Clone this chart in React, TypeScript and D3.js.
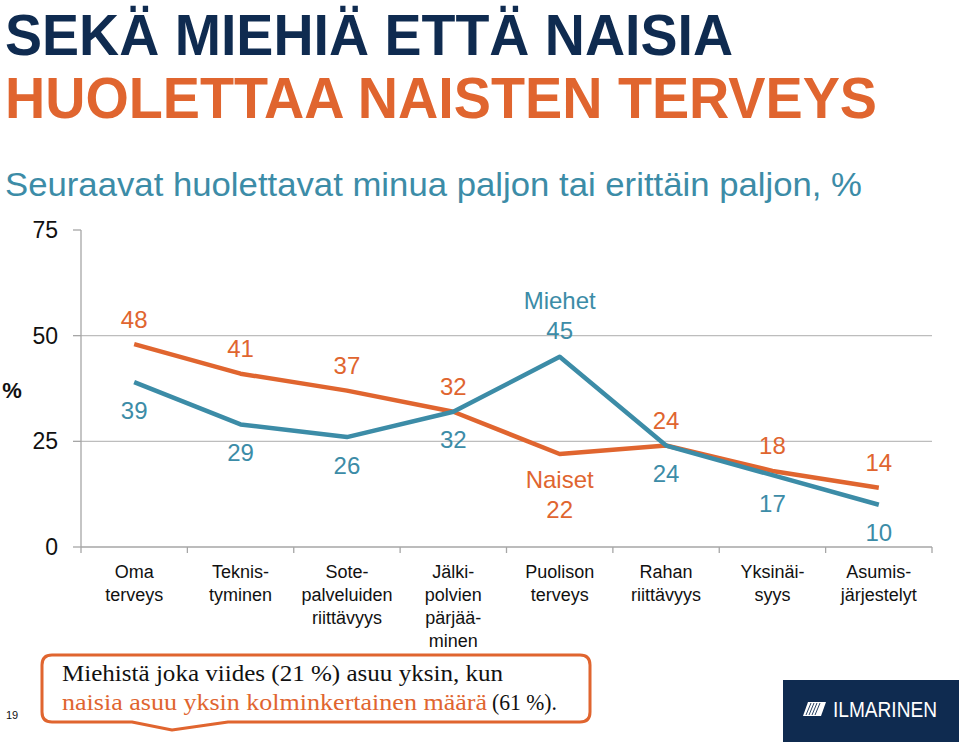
import React from "react";
import * as d3 from "d3";

const categories: string[][] = [
  ["Oma", "terveys"],
  ["Teknis-", "tyminen"],
  ["Sote-", "palveluiden", "riittävyys"],
  ["Jälki-", "polvien", "pärjää-", "minen"],
  ["Puolison", "terveys"],
  ["Rahan", "riittävyys"],
  ["Yksinäi-", "syys"],
  ["Asumis-", "järjestelyt"],
];
const naiset = [48, 41, 37, 32, 22, 24, 18, 14];
const miehet = [39, 29, 26, 32, 45, 24, 17, 10];
const yTicks = [0, 25, 50, 75];
const gridValues = [25, 50];

const ORANGE = "#E0652F";
const BLUE = "#3C8CA7";
const NAVY = "#0F2B50";

export default function App() {
  const W = 959, H = 742;
  const left = 81, right = 932, top = 230, bottom = 547;
  const idx = categories.map((_, i) => String(i));
  const x = d3.scaleBand<string>().domain(idx).range([left, right]).padding(0);
  const y = d3.scaleLinear().domain([0, 75]).range([bottom, top]);
  const cx = (i: number) => (x(String(i)) as number) + x.bandwidth() / 2;
  const line = d3.line<number>().x((_, i) => cx(i)).y((d) => y(d));

  const boundaries = d3.range(categories.length + 1).map((i) => left + i * x.bandwidth());

  return (
    <svg width={W} height={H} style={{ position: "absolute", left: 0, top: 0, background: "#fff" }}
      fontFamily="'Liberation Sans', Arial, sans-serif">
      {/* Titles */}
      <text x={5} y={55} fontSize={58} fontWeight="bold" fill={NAVY} textLength={728} lengthAdjust="spacingAndGlyphs">SEKÄ MIEHIÄ ETTÄ NAISIA</text>
      <text x={5} y={118} fontSize={58} fontWeight="bold" fill={ORANGE} textLength={872} lengthAdjust="spacingAndGlyphs">HUOLETTAA NAISTEN TERVEYS</text>
      <text x={5} y={196} fontSize={33} fill={BLUE} textLength={857} lengthAdjust="spacingAndGlyphs">Seuraavat huolettavat minua paljon tai erittäin paljon, %</text>

      {/* gridlines */}
      {gridValues.map((v) => (
        <line key={"g" + v} x1={left} x2={right} y1={y(v)} y2={y(v)} stroke="#BDBDBD" strokeWidth={1.3} />
      ))}
      {/* y axis */}
      <line x1={left} x2={left} y1={top} y2={bottom} stroke="#A6A6A6" strokeWidth={1.3} />
      {yTicks.map((v) => (
        <g key={"t" + v}>
          <line x1={left - 8} x2={left} y1={y(v)} y2={y(v)} stroke="#A6A6A6" strokeWidth={1.3} />
          <text x={58} y={y(v)} dy="0.35em" textAnchor="end" fontSize={23} fill="#111">{v}</text>
        </g>
      ))}
      <text x={12} y={390} dy="0.35em" textAnchor="middle" fontSize={22} fontWeight="bold" fill="#111">%</text>

      {/* x axis */}
      <line x1={left} x2={right} y1={bottom} y2={bottom} stroke="#A6A6A6" strokeWidth={1.3} />
      {boundaries.map((b, i) => (
        <line key={"b" + i} x1={b} x2={b} y1={bottom} y2={bottom + 6} stroke="#A6A6A6" strokeWidth={1.3} />
      ))}
      {categories.map((lines, i) => (
        <text key={"c" + i} x={cx(i)} y={578} textAnchor="middle" fontSize={18} fill="#111">
          {lines.map((l, j) => (
            <tspan key={j} x={cx(i)} dy={j === 0 ? 0 : 23}>{l}</tspan>
          ))}
        </text>
      ))}

      {/* lines */}
      <path d={line(naiset) || ""} fill="none" stroke={ORANGE} strokeWidth={4.5} strokeLinejoin="round" />
      <path d={line(miehet) || ""} fill="none" stroke={BLUE} strokeWidth={4.5} strokeLinejoin="round" />

      {/* labels */}
      {naiset.map((v, i) => {
        const above = i !== 4;
        if (!above) {
          return (
            <text key={"n" + i} x={cx(i)} y={y(v) + 26} dy="0.35em" textAnchor="middle" fontSize={24} fill={ORANGE}>
              <tspan x={cx(i)}>Naiset</tspan>
              <tspan x={cx(i)} dy={30}>{v}</tspan>
            </text>
          );
        }
        return (
          <text key={"n" + i} x={cx(i)} y={y(v) - 25} dy="0.35em" textAnchor="middle" fontSize={24} fill={ORANGE}>{v}</text>
        );
      })}
      {miehet.map((v, i) => {
        if (i === 4) {
          return (
            <text key={"m" + i} x={cx(i)} y={y(v) - 56} dy="0.35em" textAnchor="middle" fontSize={24} fill={BLUE}>
              <tspan x={cx(i)}>Miehet</tspan>
              <tspan x={cx(i)} dy={30}>{v}</tspan>
            </text>
          );
        }
        return (
          <text key={"m" + i} x={cx(i)} y={y(v) + 28} dy="0.35em" textAnchor="middle" fontSize={24} fill={BLUE}>{v}</text>
        );
      })}

      {/* callout */}
      <path
        d="M52,655 H580 Q590,655 590,665 V712 Q590,722 580,722 H228 L172,730 L132,722 H52 Q42,722 42,712 V665 Q42,655 52,655 Z"
        fill="#fff" stroke={ORANGE} strokeWidth={3} strokeLinejoin="round" />
      <text x={62} y={681} fontSize={24} fill="#111" fontFamily="'Liberation Serif', 'DejaVu Serif', serif" textLength={441} lengthAdjust="spacingAndGlyphs">Miehistä joka viides (21 %) asuu yksin, kun</text>
      <text x={62} y={710} fontSize={24} fill={ORANGE} fontFamily="'Liberation Serif', 'DejaVu Serif', serif" textLength={425} lengthAdjust="spacingAndGlyphs">naisia asuu yksin kolminkertainen määrä</text>
      <text x={492} y={710} fontSize={24} fill="#111" fontFamily="'Liberation Serif', 'DejaVu Serif', serif" textLength={65} lengthAdjust="spacingAndGlyphs">(61 %).</text>

      <text x={6} y={719} fontSize={11} fill="#111">19</text>

      {/* logo */}
      <rect x={783} y={680} width={176} height={62} fill={NAVY} />
      <polygon points="808,702 826,702 821,716 803,716" fill="#fff" />
      {[0, 1, 2, 3].map((k) => (
        <line key={"s" + k} x1={811 + k * 3} y1={703} x2={806 + k * 3} y2={715} stroke={NAVY} strokeWidth={0.9} />
      ))}
      <text x={833} y={717} fontSize={22} fill="#fff" fontFamily="'Liberation Sans Narrow', 'Liberation Sans', sans-serif" fontWeight={300} textLength={104} lengthAdjust="spacingAndGlyphs">ILMARINEN</text>
    </svg>
  );
}
